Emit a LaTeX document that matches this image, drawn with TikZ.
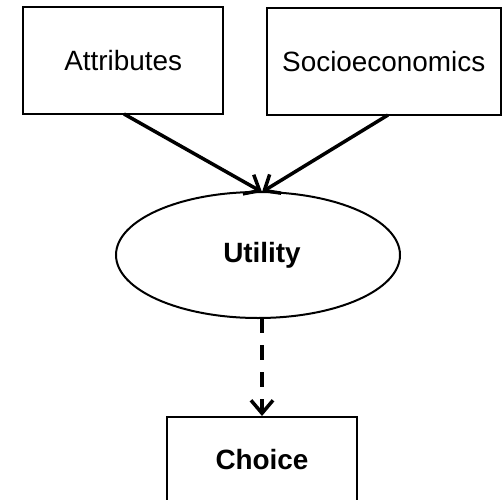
\documentclass[tikz,border=0pt]{standalone}
\usepackage{fontspec}
\setmainfont{Liberation Sans}
\usetikzlibrary{arrows.meta,shapes.geometric}
\begin{document}
\begin{tikzpicture}[x=1bp,y=-1bp,
  box/.style={draw, line width=2bp, inner sep=0pt, font=\fontsize{28}{32}\selectfont},
  oval/.style={draw, ellipse, line width=2bp, inner sep=0pt},
  link/.style={line width=3.5bp, -{Straight Barb[length=13bp,width=22bp,line width=3.5bp]}},
  dlink/.style={link, dash pattern=on 15bp off 12bp}]
  \useasboundingbox (0,0) rectangle (502,500);
  \clip (0,0) rectangle (502,500);
  \fill[white] (0,0) rectangle (502,500);

  \node[box, minimum width=199.5bp, minimum height=106.5bp] (attr) at (123.25,60.75) {Attributes};
  \node[box, minimum width=234.5bp, minimum height=107bp] (socio) at (383.75,61.5) {Socioeconomics};
  \node[oval, minimum width=284bp, minimum height=126bp] (util) at (258,255) {};
  \node[font=\bfseries\fontsize{28}{32}\selectfont] (utiltext) at (262,255) {Utility};
  \node[box, font=\bfseries\fontsize{28}{32}\selectfont, minimum width=190bp, minimum height=86bp] (choice) at (262,460) {Choice};

  \coordinate (tip) at (262,192);
  \coordinate (attrfoot) at (124,114);
  \coordinate (sociofoot) at (388,115);
  \coordinate (utilfoot) at (262,318);

  \draw[link] (attrfoot) -- (tip);
  \draw[link] (sociofoot) -- (tip);
  \draw[dlink] (utilfoot) -- (choice.north);
\end{tikzpicture}
\end{document}
